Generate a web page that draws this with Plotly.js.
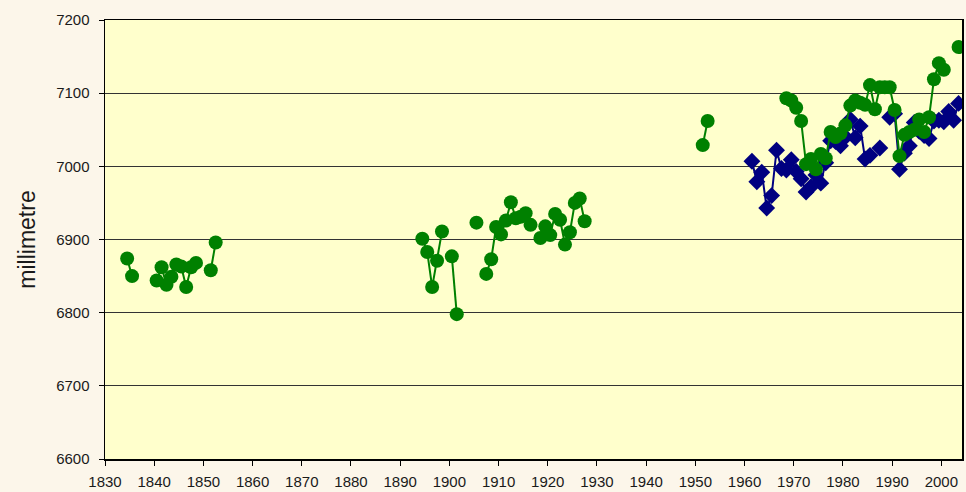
<!DOCTYPE html>
<html>
<head>
<meta charset="utf-8">
<script src="https://cdn.plot.ly/plotly-3.0.1.min.js"></script>
<style>
  html, body { margin: 0; padding: 0; background: #FCF6EA; }
  #chart { width: 966px; height: 492px; }
</style>
</head>
<body>
<div id="chart"></div>
<script>
// Annual values (millimetre); null = no data (gap in line)
var greenYears = [
  1834, 1835, 1836,
  1840, 1841, 1842, 1843, 1844, 1845, 1846, 1847, 1848, 1849,
  1851, 1852, 1853,
  1894, 1895, 1896, 1897, 1898, 1899,
  1900, 1901, 1902,
  1905, 1906,
  1907, 1908, 1909, 1910, 1911, 1912, 1913, 1914, 1915, 1916, 1917,
  1918, 1919, 1920, 1921, 1922, 1923, 1924, 1925, 1926, 1927, 1928,
  1951, 1952, 1953,
  1968, 1969, 1970, 1971, 1972, 1973, 1974, 1975, 1976, 1977, 1978, 1979,
  1980, 1981, 1982, 1983, 1984, 1985, 1986, 1987, 1988, 1989,
  1990, 1991, 1992, 1993, 1994, 1995, 1996, 1997, 1998, 1999, 2000, 2001,
  2003
];
var greenValues = [
  6874, 6850, null,
  6844, 6862, 6838, 6849, 6866, 6863, 6835, 6862, 6868, null,
  6858, 6896, null,
  6901, 6883, 6835, 6871, 6911, null,
  6877, 6798, null,
  6923, null,
  6853, 6873, 6917, 6907, 6926, 6951, 6929, 6931, 6936, 6920, null,
  6902, 6918, 6906, 6935, 6927, 6893, 6910, 6950, 6956, 6925, null,
  7029, 7062, null,
  7093, 7090, 7080, 7062, 7003, 7010, 6996, 7017, 7011, 7047, 7040, 7045,
  7056, 7083, 7090, 7087, 7084, 7111, 7078, 7108, 7108, 7108,
  7077, 7014, 7043, 7047, 7050, 7064, 7047, 7067, 7119, 7141, 7132, null,
  7163
];

var blueYears = [
  1961, 1962, 1963, 1964, 1965, 1966, 1967, 1968, 1969,
  1970, 1971, 1972, 1973, 1974, 1975, 1976, 1977, 1978, 1979,
  1980, 1981, 1982, 1983, 1984, 1985, 1986, 1987, 1988, 1989,
  1990, 1991, 1992, 1993, 1994, 1995, 1996, 1997, 1998, 1999,
  2000, 2001, 2002, 2003
];
var blueValues = [
  7007, 6979, 6992, 6943, 6960, 7022, 6997, 6995, 7009,
  6993, 6983, 6965, 6972, 6988, 6977, 7005, 7035, 7034, 7028,
  7040, 7064, 7039, 7055, 7010, 7015, null, 7025, null, 7067,
  7072, 6996, 7018, 7028, 7060, 7048, 7042, 7038, 7062, 7063,
  7061, 7075, 7063, 7086
];

var yTicks = [6600, 6700, 6800, 6900, 7000, 7100, 7200];
var xTicks = [1830, 1840, 1850, 1860, 1870, 1880, 1890, 1900, 1910, 1920, 1930, 1940, 1950, 1960, 1970, 1980, 1990, 2000];
var yTitle = "millimetre";

// annual values plotted at mid-year
function midYear(arr) { return arr.map(function (y) { return y + 0.5; }); }

var traces = [
  {
    x: midYear(blueYears), y: blueValues,
    type: 'scatter', mode: 'lines+markers', connectgaps: false,
    line: { color: '#000080', width: 2 },
    marker: { symbol: 'diamond', size: 13, color: '#000080' },
    hoverinfo: 'x+y'
  },
  {
    x: midYear(greenYears), y: greenValues,
    type: 'scatter', mode: 'lines+markers', connectgaps: false,
    line: { color: '#008000', width: 2 },
    marker: { symbol: 'circle', size: 14, color: '#008000' },
    hoverinfo: 'x+y'
  }
];

var layout = {
  width: 966, height: 492,
  margin: { l: 105, r: 4, t: 20, b: 33 },
  paper_bgcolor: '#FCF6EA',
  plot_bgcolor: '#FFFFCC',
  showlegend: false,
  font: { family: 'Liberation Sans, Arial, sans-serif', size: 15, color: '#1a1a1a' },
  xaxis: {
    range: [1830, 2004.2],
    tickmode: 'array', tickvals: xTicks, ticktext: xTicks.map(String),
    showgrid: false, zeroline: false,
    showline: true, linecolor: '#000000', linewidth: 1.5, mirror: true,
    ticks: 'outside', ticklen: 5, tickcolor: '#000000', tickwidth: 1,
    ticklabelstandoff: 3,
    tickfont: { size: 15 }
  },
  yaxis: {
    range: [6600, 7200],
    tickmode: 'array', tickvals: yTicks, ticktext: yTicks.map(String),
    showgrid: true, gridcolor: '#333333', gridwidth: 1,
    zeroline: false,
    showline: true, linecolor: '#000000', linewidth: 1.5, mirror: true,
    ticks: 'outside', ticklen: 5, tickcolor: '#000000', tickwidth: 1,
    ticklabelstandoff: 6,
    tickfont: { size: 15 },
    title: { text: yTitle, font: { size: 23, color: '#1a1a1a' }, standoff: 14 }
  }
};

Plotly.newPlot('chart', traces, layout, { staticPlot: true, displayModeBar: false });
</script>
</body>
</html>
